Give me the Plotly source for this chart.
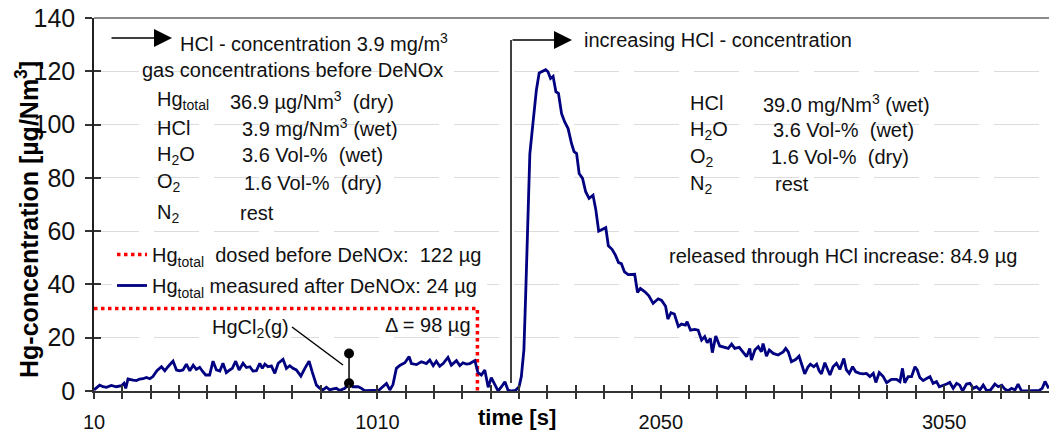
import plotly.graph_objects as go

# ---------------- data ----------------
time_s = [10, 16, 30, 42, 54, 71, 89, 107, 116, 122, 130, 148, 160, 171, 183, 195, 207, 218, 232, 248,
          260, 271, 289, 301, 312, 324, 336, 348, 360, 371, 383, 392, 404, 418, 430, 442, 454, 465, 477, 489,
          498, 510, 522, 536, 548, 560, 571, 583, 595, 604, 613, 624, 636, 648, 660, 677, 689, 701, 712, 724,
          740, 754, 769, 780, 795, 807, 818, 830, 842, 854, 865, 877, 895, 910, 924, 942, 954, 965, 983, 1001,
          1012, 1024, 1042, 1054, 1065, 1077, 1089, 1107, 1122, 1130, 1148, 1165, 1183, 1195, 1207, 1218, 1230, 1242, 1259, 1271,
          1289, 1301, 1312, 1324, 1336, 1354, 1365, 1377, 1389, 1401, 1412, 1424, 1436, 1448, 1460, 1471, 1483, 1497, 1510, 1518,
          1527, 1533, 1540, 1548, 1560, 1571, 1581, 1595, 1604, 1612, 1621, 1630, 1640, 1649, 1660, 1671, 1683, 1695, 1704, 1713,
          1722, 1734, 1745, 1757, 1771, 1781, 1791, 1801, 1816, 1825, 1838, 1850, 1861, 1871, 1882, 1895, 1907, 1918, 1928, 1938,
          1954, 1968, 1983, 2001, 2013, 2027, 2035, 2046, 2058, 2072, 2083, 2097, 2103, 2115, 2130, 2142, 2154, 2165, 2174, 2185,
          2192, 2204, 2218, 2232, 2248, 2260, 2271, 2287, 2295, 2313, 2324, 2330, 2342, 2354, 2365, 2371, 2383, 2393, 2407, 2424,
          2442, 2451, 2460, 2471, 2487, 2498, 2510, 2518, 2530, 2538, 2550, 2560, 2569, 2577, 2589, 2597, 2607, 2618, 2630, 2642,
          2656, 2665, 2675, 2687, 2698, 2712, 2724, 2736, 2748, 2760, 2769, 2781, 2795, 2807, 2824, 2842, 2854, 2863, 2871, 2883,
          2895, 2907, 2915, 2924, 2936, 2948, 2960, 2971, 2983, 2993, 3007, 3019, 3030, 3042, 3054, 3065, 3075, 3089, 3101, 3113,
          3124, 3136, 3148, 3160, 3174, 3189, 3201, 3213, 3224, 3236, 3248, 3260, 3271, 3283, 3301, 3324, 3345, 3356, 3366, 3379]

hg_measured = [0.4, 1.0, 2.2, 1.6, 1.4, 2.1, 1.6, 2.0, 2.9, 1.0, 4.5, 4.1, 3.9, 4.5, 4.6, 5.1, 4.6, 5.4, 7.6, 9.1,
               7.6, 9.1, 11.2, 7.9, 7.6, 7.9, 10.1, 7.6, 9.7, 8.1, 8.9, 7.5, 6.0, 6.0, 11.2, 7.9, 7.5, 10.4, 6.9, 7.9,
               8.5, 11.2, 7.9, 10.4, 8.8, 9.1, 7.5, 7.6, 10.4, 8.5, 10.1, 9.1, 9.4, 6.6, 10.4, 11.9, 8.5, 9.5, 8.5, 7.9,
               5.6, 8.5, 11.2, 7.2, 2.2, 1.0, 0.4, 1.4, 0.4, 0.8, 1.0, 0.2, 1.0, 2.9, 1.6, 1.6, 1.0, 0.1, 0.2, 0.2,
               0.0, 1.0, 2.8, 0.4, 2.4, 8.5, 9.6, 10.6, 12.9, 10.3, 9.9, 11.0, 10.3, 11.6, 9.5, 11.2, 9.3, 10.3, 12.6, 9.7,
               11.4, 9.5, 10.6, 10.1, 10.3, 11.4, 6.9, 6.0, 7.9, 1.4, 5.0, 2.5, 0.0, 1.6, 3.5, 0.3, 0.0, 0.2, 1.6, 5.4,
               15.4, 35.0, 65.0, 89.0, 101.6, 112.9, 119.4, 120.1, 120.6, 119.8, 117.3, 118.1, 112.3, 111.7, 104.1, 101.0, 98.5, 92.9, 89.8, 89.1,
               81.6, 79.8, 74.8, 72.3, 73.5, 67.9, 60.0, 60.5, 61.3, 54.5, 53.2, 51.0, 48.2, 47.8, 44.7, 43.7, 43.7, 43.8, 37.0, 38.5,
               37.2, 35.7, 32.9, 34.6, 34.0, 31.8, 27.0, 29.4, 28.9, 24.2, 25.1, 24.7, 26.0, 22.8, 23.1, 22.8, 19.1, 20.4, 18.1, 19.7,
               14.4, 20.6, 16.9, 16.6, 16.0, 17.6, 16.0, 16.4, 15.4, 12.9, 16.0, 11.6, 15.4, 16.6, 14.7, 17.8, 13.1, 15.4, 14.1, 13.5,
               14.7, 16.0, 14.7, 11.0, 11.9, 13.1, 9.1, 6.4, 9.1, 10.1, 9.1, 10.1, 7.6, 6.4, 10.6, 8.5, 6.0, 9.1, 10.4, 8.1,
               12.2, 7.9, 6.6, 9.1, 7.2, 6.6, 6.4, 6.6, 5.4, 6.6, 3.2, 6.9, 5.4, 3.1, 4.4, 4.4, 3.5, 8.5, 3.1, 5.4,
               5.4, 9.1, 7.9, 5.1, 3.9, 4.7, 5.4, 2.9, 3.5, 1.6, 2.0, 2.6, 3.2, 1.0, 2.9, 2.2, 0.0, 2.6, 2.9, 1.0,
               1.6, 0.4, 2.2, 0.1, 0.4, 2.6, 1.6, 2.2, 0.7, 0.1, 1.0, 0.4, 2.6, 0.0, 0.0, 0.1, 0.2, 1.0, 3.6, 1.0]

dosed_time = [10, 1363, 1363]
hg_dosed = [31.0, 31.0, 0.0]

hgcl2_time = [910, 910]
hgcl2_vals = [2.9, 14.1]

x_tick_pos = [10, 1010, 2010, 3010]
x_tick_labels = ["10", "1010", "2050", "3050"]
x_minor_pos = [10 + 100 * k for k in range(34)]
y_tick_vals = [0, 20, 40, 60, 80, 100, 120, 140]

FONT = "Liberation Sans, Arial, sans-serif"
TXT = "#111111"

# ---------------- layout helpers (pixel -> paper) ----------------
L, R, T, B = 94, 0, 18, 44
W, H = 1049, 435
PW, PH = W - L - R, H - T - B


def fx(px):
    return (px - L) / PW


def fy(py):
    return (H - B - py) / PH


fig = go.Figure()

fig.add_trace(go.Scatter(
    x=dosed_time, y=hg_dosed, mode="lines",
    line=dict(color="#ff0000", width=3.5, dash="dot"),
    name="Hg<sub>total</sub>  dosed before DeNOx:  122 µg",
    legendgroup="a", hoverinfo="skip"))

fig.add_trace(go.Scatter(
    x=time_s, y=hg_measured, mode="lines",
    line=dict(color="#000080", width=2.8),
    name="Hg<sub>total</sub> measured after DeNOx: 24 µg",
    legendgroup="b", hoverinfo="skip"))

fig.add_trace(go.Scatter(
    x=hgcl2_time, y=hgcl2_vals, mode="lines+markers",
    line=dict(color="black", width=1.5),
    marker=dict(color="black", size=10),
    showlegend=False, hoverinfo="skip"))

# dummy trace for overlay axes (inside tick marks)
fig.add_trace(go.Scatter(x=[None], y=[None], xaxis="x2", yaxis="y2",
                         showlegend=False, hoverinfo="skip"))

tickcol = "#333333"
fig.update_layout(
    width=W, height=H,
    margin=dict(l=L, r=R, t=T, b=B),
    paper_bgcolor="white", plot_bgcolor="white",
    font=dict(family=FONT, size=20, color=TXT),
    showlegend=True,
    legend=dict(x=fx(112), y=fy(235), xanchor="left", yanchor="top",
                bgcolor="white", borderwidth=0, font=dict(size=20, color=TXT),
                tracegroupgap=2, itemwidth=30),
    xaxis=dict(range=[10, 3380], tickmode="array", tickvals=x_tick_pos, ticktext=x_tick_labels,
               ticks="outside", ticklen=6, tickwidth=1.5, tickcolor=tickcol,
               minor=dict(tickmode="array", tickvals=x_minor_pos, ticks="outside", ticklen=6,
                          tickwidth=1.5, tickcolor=tickcol, showgrid=False),
               showline=True, linecolor="#333333", linewidth=2, showgrid=False, zeroline=False,
               tickfont=dict(size=20, color=TXT), ticklabelstandoff=6),
    xaxis2=dict(range=[10, 3380], overlaying="x", anchor="y", side="bottom",
                tickmode="array", tickvals=x_tick_pos, showticklabels=False,
                ticks="inside", ticklen=6, tickwidth=1.5, tickcolor=tickcol,
                minor=dict(tickmode="array", tickvals=x_minor_pos, ticks="inside", ticklen=6,
                           tickwidth=1.5, tickcolor=tickcol, showgrid=False),
                showline=False, showgrid=False, zeroline=False),
    yaxis=dict(range=[0, 140], tickmode="array", tickvals=y_tick_vals,
               ticks="outside", ticklen=7, tickwidth=1.5, tickcolor=tickcol,
               showline=True, linecolor="#222222", linewidth=1.5,
               showgrid=True, gridcolor="#dcdcdc", gridwidth=1, griddash="45px,15px",
               zeroline=False, tickfont=dict(size=25, color=TXT), ticklabelstandoff=5),
    yaxis2=dict(range=[0, 140], overlaying="y", anchor="x", side="left",
                tickmode="array", tickvals=y_tick_vals, showticklabels=False,
                ticks="inside", ticklen=7, tickwidth=1.5, tickcolor=tickcol,
                showline=False, showgrid=False, zeroline=False),
)

shapes = []
# white text boxes hiding gridlines (between grid and traces)
for (x0, y0, x1, y1) in [(135, 24, 458, 84), (140, 84, 405, 236), (680, 90, 935, 195)]:
    shapes.append(dict(type="rect", xref="paper", yref="paper", x0=fx(x0), x1=fx(x1),
                       y0=fy(y1), y1=fy(y0), fillcolor="white", line=dict(width=0), layer="between"))
# top border
shapes.append(dict(type="line", xref="paper", yref="paper", x0=0, x1=1, y0=1, y1=1,
                   line=dict(color="#8c8c8c", width=2)))
# vertical line marking HCl increase
shapes.append(dict(type="line", xref="paper", yref="paper", x0=fx(511), x1=fx(511),
                   y0=fy(383), y1=fy(40), line=dict(color="black", width=1.5)))
# leader line for HgCl2(g)
shapes.append(dict(type="line", xref="paper", yref="paper", x0=fx(292), y0=fy(327),
                   x1=fx(343), y1=fy(365), line=dict(color="black", width=1.5)))
fig.update_layout(shapes=shapes)

ann = []


def text(px, py, s, anchor="left", **kw):
    d = dict(xref="paper", yref="paper", x=fx(px), y=fy(py), text=s, showarrow=False,
             xanchor=anchor, yanchor="middle", font=dict(size=20, color=TXT, family=FONT))
    d.update(kw)
    ann.append(d)


text(178, 42, "HCl - concentration 3.9 mg/m<sup>3</sup>")
text(140, 70, "gas concentrations before DeNOx")
for lab, val, vx, py in [("Hg<sub>total</sub>", "36.9 µg/Nm<sup>3</sup>  (dry)", 228, 100),
                         ("HCl", "3.9 mg/Nm<sup>3</sup> (wet)", 240, 128),
                         ("H<sub>2</sub>O", "3.6 Vol-%  (wet)", 240, 155),
                         ("O<sub>2</sub>", "1.6 Vol-%  (dry)", 242, 183),
                         ("N<sub>2</sub>", "rest", 238, 213)]:
    text(155, py, lab)
    text(vx, py, val)
for lab, val, vx, py in [("HCl", "39.0 mg/Nm<sup>3</sup> (wet)", 761, 103),
                         ("H<sub>2</sub>O", "3.6 Vol-%  (wet)", 771, 130),
                         ("O<sub>2</sub>", "1.6 Vol-%  (dry)", 769, 157),
                         ("N<sub>2</sub>", "rest", 773, 184)]:
    text(688, py, lab)
    text(vx, py, val)
text(582, 40, "increasing HCl - concentration")
text(667, 256, "released through HCl increase: 84.9 µg")
text(473, 325, "Δ = 98 µg", anchor="right")
text(210, 328, "HgCl<sub>2</sub>(g)", bgcolor="white")
text(517, 417, "<b>time [s]</b>", anchor="center", font=dict(size=22, color="black", family=FONT))
text(27, 220, "<b>Hg-concentration [µg/Nm<sup>3</sup>]</b>", anchor="center", textangle=-90,
     font=dict(size=25, color="black", family=FONT))

# arrows
for tip_x, tip_y, length in [(172, 38, 62), (572, 40, 61)]:
    ann.append(dict(xref="paper", yref="paper", x=fx(tip_x), y=fy(tip_y), text="",
                    showarrow=True, ax=-length, ay=0, arrowhead=2, arrowsize=2.4,
                    arrowwidth=1.5, arrowcolor="black"))

fig.update_layout(annotations=ann)

fig.write_html("out.html")
